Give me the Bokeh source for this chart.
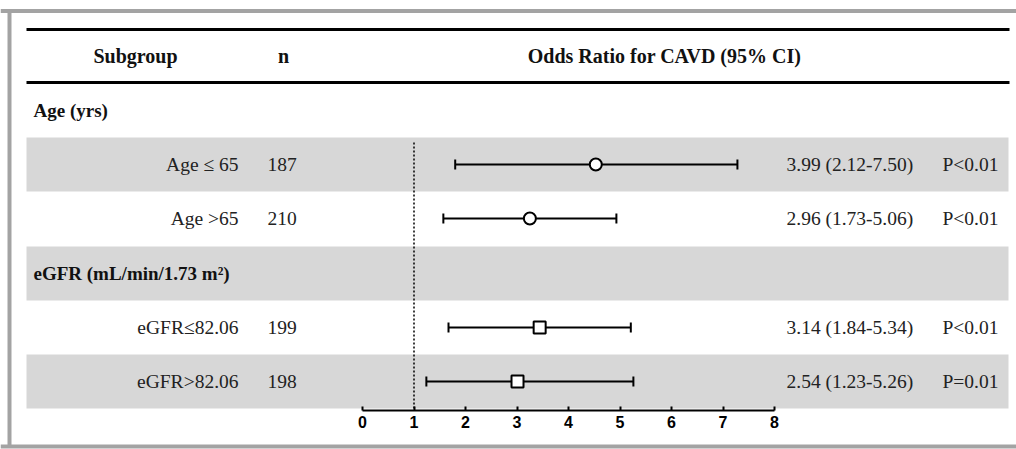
from bokeh.plotting import figure
from bokeh.models import Range1d, LinearAxis, FixedTicker, ColumnDataSource
from bokeh.core.properties import value
from bokeh.embed import file_html
from bokeh.resources import INLINE
import math

# ---------------- data ----------------
subgroups = ["Age \u2264 65", "Age >65", "eGFR\u226482.06", "eGFR>82.06"]
n_values = ["187", "210", "199", "198"]
or_est = [4.53, 3.25, 3.44, 3.01]      # plotted point estimates
ci_low = [1.80, 1.57, 1.67, 1.24]
ci_high = [7.28, 4.93, 5.21, 5.26]
or_text = ["3.99 (2.12-7.50)", "2.96 (1.73-5.06)", "3.14 (1.84-5.34)", "2.54 (1.23-5.26)"]
p_text = ["P<0.01", "P<0.01", "P<0.01", "P=0.01"]
markers = ["circle", "circle", "square", "square"]
group_headers = ["Age (yrs)", "eGFR (mL/min/1.73 m\u00b2)"]
header_labels = ["Subgroup", "n", "Odds Ratio for CAVD (95% CI)"]
tick_vals = [0, 1, 2, 3, 4, 5, 6, 7, 8]
ref_value = 1

# ---------------- layout (pixel-like coordinates) ----------------
W, H = 1016, 449
row_y = [164, 218, 327, 381]
group_y = [110, 273]
band_tops = [137, 246, 354]
band_bots = [191, 300, 408]
axis_y = 410
px_per_unit = 51.5
or_zero_px = 362
or_start = -or_zero_px / px_per_unit
or_end = (W - or_zero_px) / px_per_unit

serif = value("Liberation Serif")

p = figure(width=W, height=H, x_range=Range1d(0, W), y_range=Range1d(H, 0),
           output_backend="svg", toolbar_location=None,
           x_axis_location=None, y_axis_location=None, min_border=0,
           outline_line_color=None, background_fill_color="white",
           border_fill_color="white")
p.grid.visible = False
p.extra_x_ranges = {"or": Range1d(or_start, or_end)}

# outer gray frame
p.segment(x0=[0, 9, 0], x1=[W, 9, W], y0=[10.5, 10.5, 446], y1=[10.5, 446, 446],
          line_color="#a3a3a3", line_width=4)

# shaded bands
p.quad(left=26, right=1008, top=band_tops, bottom=band_bots,
       fill_color="#d7d7d7", line_color=None)

# header rules
p.segment(x0=26, x1=1009, y0=[29, 82], y1=[29, 82], line_color="black", line_width=3)

# header texts
p.text(x=[135, 283, 664], y=[55, 55, 55], text=header_labels,
       text_font=serif, text_font_style="bold", text_font_size="20px",
       text_align="center", text_baseline="middle", text_color="#111111")

# group header texts
p.text(x=[33, 33], y=group_y, text=group_headers,
       text_font=serif, text_font_style="bold", text_font_size="19px",
       text_align="left", text_baseline="middle", text_color="#111111")

src = ColumnDataSource(dict(y=row_y, sub=subgroups, n=n_values, est=or_est,
                            lo=ci_low, hi=ci_high, ort=or_text, pt=p_text,
                            mk=markers))

p.text(x=238, y="y", text="sub", source=src, text_font=serif, text_font_size="19.5px",
       text_align="right", text_baseline="middle", text_color="#222222")
p.text(x=267, y="y", text="n", source=src, text_font=serif, text_font_size="19.5px",
       text_align="left", text_baseline="middle", text_color="#222222")
p.text(x=786, y="y", text="ort", source=src, text_font=serif, text_font_size="19.5px",
       text_align="left", text_baseline="middle", text_color="#222222")
p.text(x=942, y="y", text="pt", source=src, text_font=serif, text_font_size="19.5px",
       text_align="left", text_baseline="middle", text_color="#222222")

# reference line at OR = 1
p.segment(x0=ref_value, x1=ref_value, y0=142, y1=axis_y, x_range_name="or",
          line_color="black", line_width=1.5, line_dash="2 2")

# CI lines and caps
p.segment(x0="lo", x1="hi", y0="y", y1="y", source=src, x_range_name="or",
          line_color="black", line_width=2)
p.scatter(x="lo", y="y", source=src, x_range_name="or", marker="dash",
          angle=math.pi / 2, size=10, line_color="black", line_width=2)
p.scatter(x="hi", y="y", source=src, x_range_name="or", marker="dash",
          angle=math.pi / 2, size=10, line_color="black", line_width=2)

# point estimates
p.scatter(x="est", y="y", source=src, x_range_name="or", marker="mk",
          size=12, fill_color="white", line_color="black", line_width=2)

# x axis
ax = LinearAxis(x_range_name="or", fixed_location=axis_y,
                ticker=FixedTicker(ticks=tick_vals), bounds=(0, 8))
ax.axis_line_width = 2
ax.axis_line_color = "black"
ax.major_tick_in = 4
ax.major_tick_out = 0
ax.major_tick_line_width = 2
ax.minor_tick_line_color = None
ax.major_label_text_font = "Liberation Sans"
ax.major_label_text_font_style = "bold"
ax.major_label_text_font_size = "16px"
ax.major_label_text_color = "black"
ax.major_label_standoff = 5
p.add_layout(ax, "below")

open("out.html", "w").write(file_html(p, INLINE))
